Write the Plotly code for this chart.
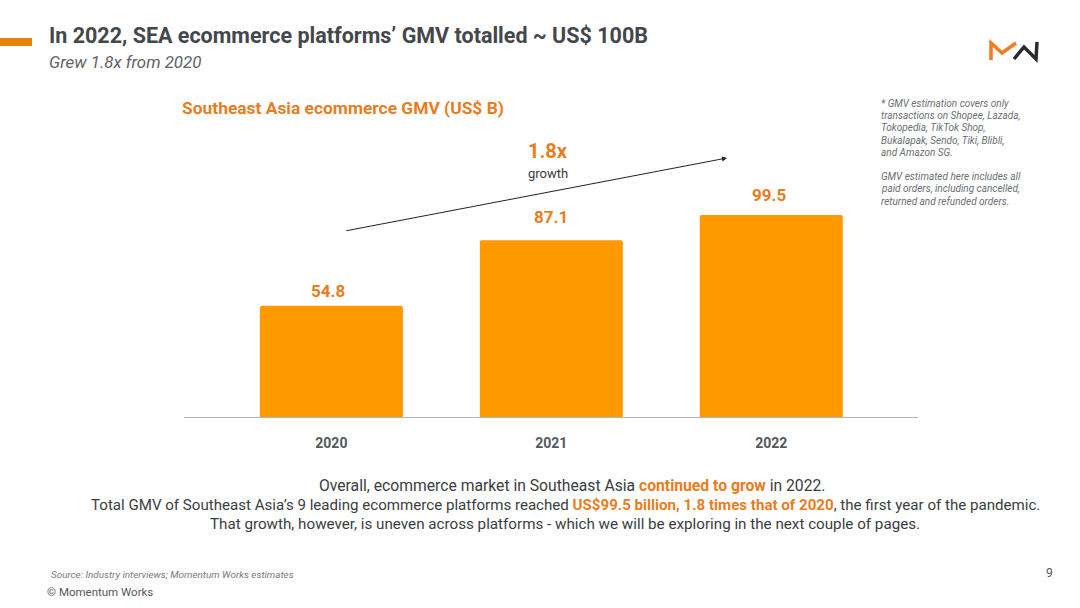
import plotly.express as px


def px_x(x):
    return (x - 184) / 734


def px_y(y):
    return (417 - y) / 320


def generate_new_plot(plot_name):
    print("Plot starting...")
    years = ['2020', '2021', '2022']
    gmv = [54.8, 87.1, 99.5]
    label_shifts = [(-3, 15), (0, 23), (-2, 20)]  # labels do not sit evenly over the bars
    orange = '#E87D1E'
    grey = '#44474B'
    fig = px.bar(x=years,
                 y=gmv,
                 template="none",
                 labels={'x': '', 'y': ''}
                 )
    fig.update_traces(marker_color='#FF9900',
                      marker_line_width=0,
                      width=0.65
                      )
    fig.update_layout(showlegend=False,
                      width=1080,
                      height=608,
                      paper_bgcolor='white',
                      plot_bgcolor='white',
                      barcornerradius=2,
                      font_family='Roboto',
                      margin=dict(l=184, r=162, t=97, b=191, pad=0)
                      )
    fig.update_xaxes(
        type='category',
        range=[-0.67, 2.667],
        tickvals=years,
        ticktext=['<b>' + y + '</b>' for y in years],
        tickfont=dict(size=14, color='#55585C'),
        ticks='outside',
        ticklen=13,
        tickcolor='rgba(0,0,0,0)',
        showgrid=False,
        showline=True,
        linecolor='#B5B5B5',
        linewidth=1,
        automargin=False,
    )
    fig.update_yaxes(
        range=[0, 157.6],
        visible=False,
        showgrid=False,
    )
    for i, value in enumerate(gmv):  # numeric year strings would be read as positions
        fig.add_annotation(x=i, y=value, xref='x', yref='y',
                           text='<b>{}</b>'.format(value), showarrow=False,
                           xshift=label_shifts[i][0], yshift=label_shifts[i][1], yanchor='middle',
                           font=dict(size=17, color=orange))

    # page furniture, placed in pixels of the slide
    notes = [
        (47, 36, '<b>In 2022, SEA ecommerce platforms’ GMV totalled ~ US$ 100B</b>', 21.5, grey, 'left'),
        (47, 62, '<i>Grew 1.8x from 2020</i>', 16.9, '#5F6266', 'left'),
        (180, 108, '<b>Southeast Asia ecommerce GMV (US$ B)</b>', 17.4, orange, 'left'),
        (548, 151, '<b>1.8x</b>', 20, orange, 'center'),
        (548, 173, 'growth', 13, '#3A3A3A', 'center'),
        (571.5, 485, 'Overall, ecommerce market in Southeast Asia '
         '<b style="color:#E87D1E">continued to grow</b> in 2022.', 15.7, '#3A3D40', 'center'),
        (565, 505, 'Total GMV of Southeast Asia’s 9 leading ecommerce platforms reached '
         '<b style="color:#E87D1E">US$99.5 billion, 1.8 times that of 2020</b>, '
         'the first year of the pandemic.', 15.1, '#3A3D40', 'center'),
        (565, 524, 'That growth, however, is uneven across platforms - which we will be exploring '
         'in the next couple of pages.', 15.2, '#3A3D40', 'center'),
        (49, 574, '<i>Source: Industry interviews; Momentum Works estimates</i>', 9.9, '#77797C', 'left'),
        (1044, 573, '9', 12, '#55585C', 'left'),
        (45, 592, '© Momentum Works', 11.5, '#55585C', 'left'),
    ]
    side_note = ['* GMV estimation covers only', 'transactions on Shopee, Lazada,',
                 'Tokopedia, TikTok Shop,', 'Bukalapak, Sendo, Tiki, Blibli,',
                 'and Amazon SG.', '', 'GMV estimated here includes all',
                 'paid orders, including cancelled,', 'returned and refunded orders.']
    for i, line in enumerate(side_note):
        if line:
            notes.append((879, 103.5 + i * 12.2, '<i>' + line + '</i>', 10, '#6B6E72', 'left'))
    for x, y, text, size, color, side in notes:
        fig.add_annotation(x=px_x(x), y=px_y(y), xref='paper', yref='paper',
                           text=text, showarrow=False, align=side, xanchor=side,
                           yanchor='middle', font=dict(size=size, color=color))

    fig.add_annotation(x=px_x(727), y=px_y(158), ax=-382, ay=73,
                       xref='paper', yref='paper', axref='pixel', ayref='pixel',
                       text='', showarrow=True, arrowhead=2, arrowsize=1,
                       arrowwidth=1, arrowcolor='#222222')

    fig.add_shape(type='rect', xref='paper', yref='paper',
                  x0=px_x(0), x1=px_x(32), y0=px_y(38), y1=px_y(46),
                  fillcolor='#E8830C', line_width=0)
    # logo
    fig.add_shape(type='path', xref='paper', yref='paper',
                  path='M {} {} L {} {} L {} {} L {} {}'.format(
                      px_x(991), px_y(60), px_x(991), px_y(43),
                      px_x(1002), px_y(53), px_x(1016), px_y(43)),
                  line=dict(color='#F47B20', width=3.5))
    fig.add_shape(type='path', xref='paper', yref='paper',
                  path='M {} {} L {} {} L {} {} L {} {}'.format(
                      px_x(1014), px_y(59), px_x(1024), px_y(47),
                      px_x(1036), px_y(59), px_x(1037), px_y(42)),
                  line=dict(color='#2B2B2B', width=3.5))

    fig.write_html(plot_name + ".html",
                   config={'displayModeBar': False},
                   post_script="document.body.style.margin = 0;")
    print("Wrote plot to {0}.html".format(plot_name))


generate_new_plot("out")
